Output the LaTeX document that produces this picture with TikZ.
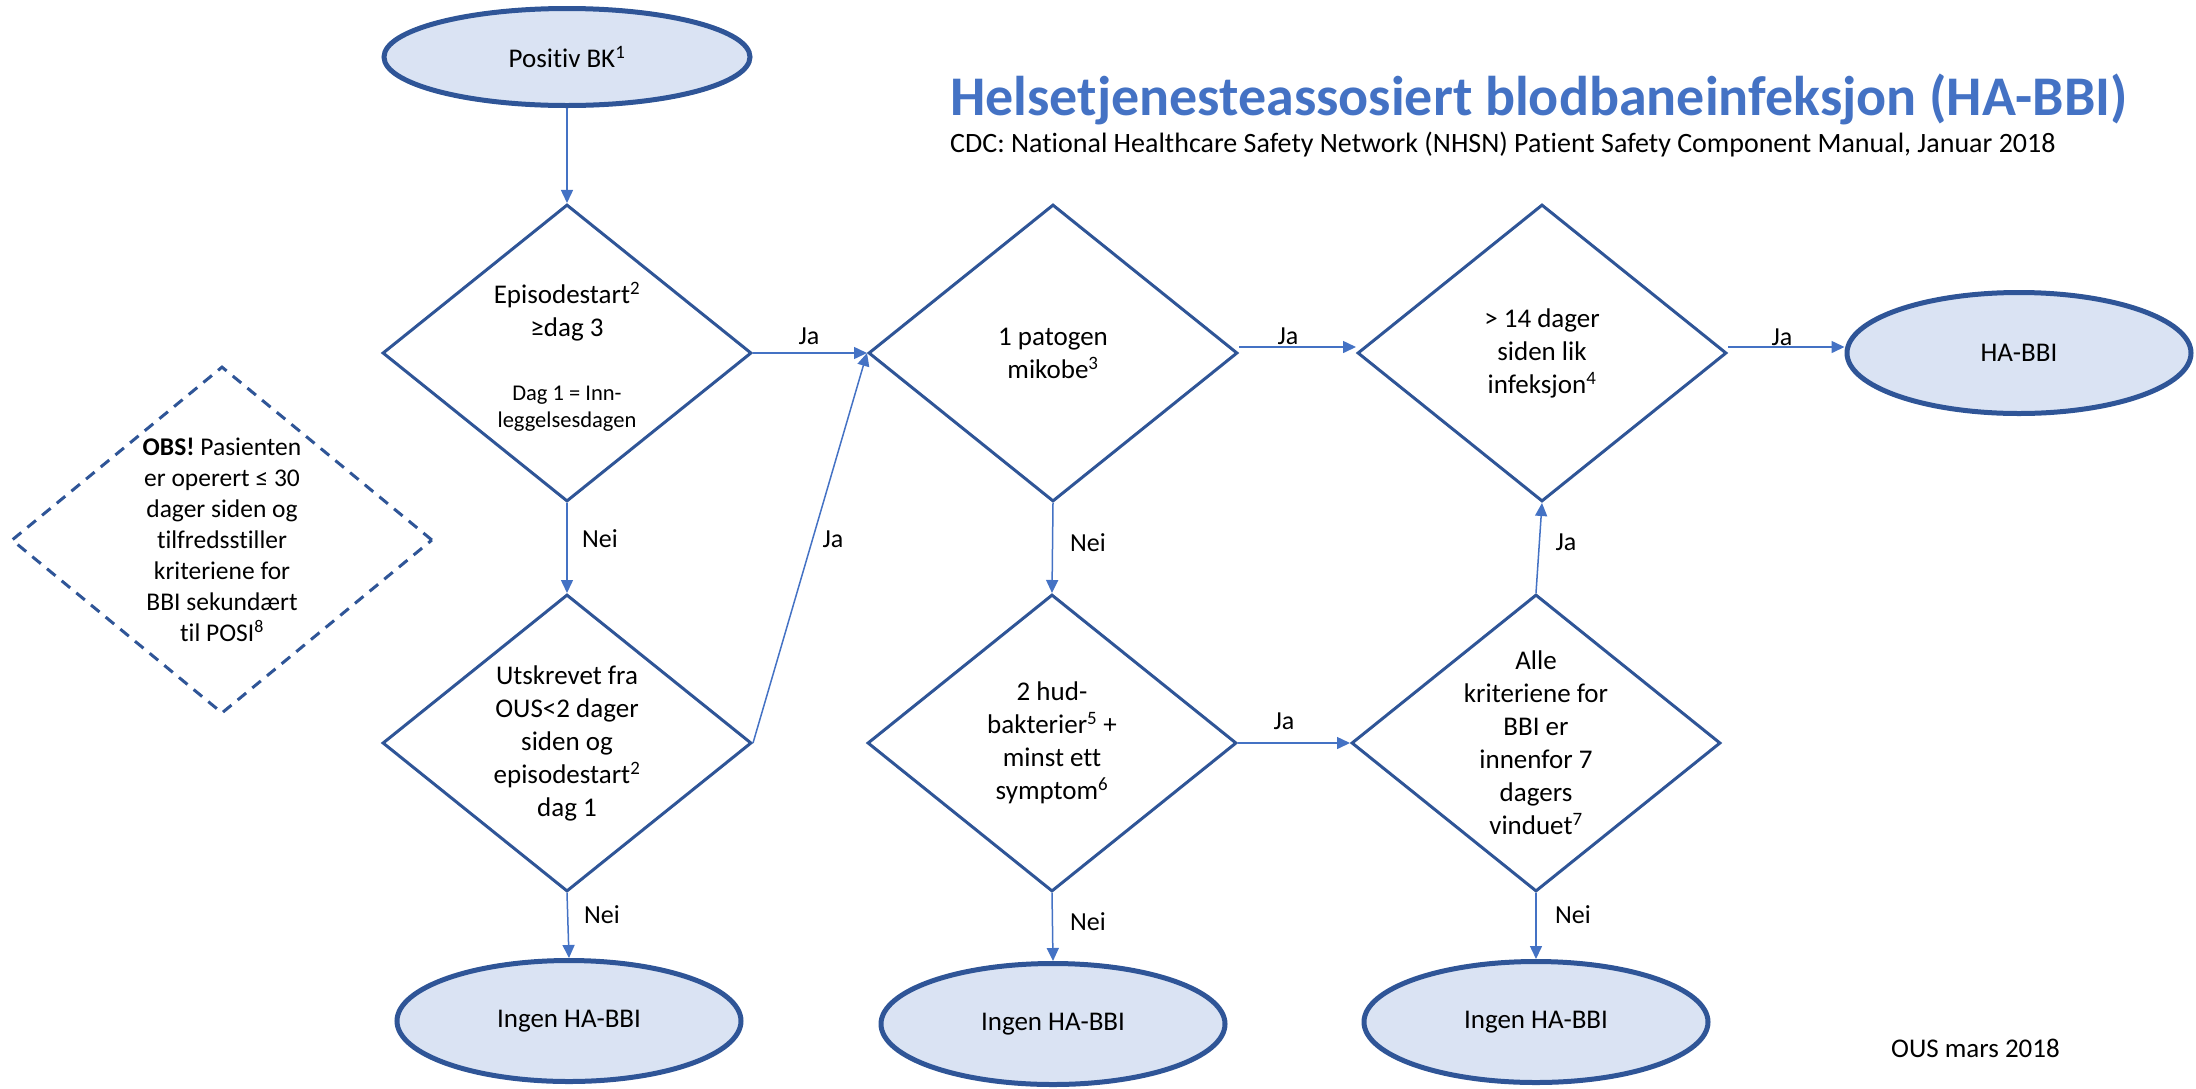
\documentclass[tikz,border=0pt]{standalone}
\usepackage{fontspec}
\setmainfont{Carlito}[Ligatures=NoCommon]
\usetikzlibrary{shapes.geometric,arrows.meta}
\definecolor{bord}{HTML}{2F5597}
\definecolor{fillc}{HTML}{DAE3F3}
\definecolor{conn}{HTML}{4472C4}
\newcommand\fsz[2]{\fontsize{#1pt}{#2pt}\selectfont}
\begin{document}
\begin{tikzpicture}[x=1pt,y=-1pt,
  term/.style={ellipse, draw=bord, fill=fillc, line width=5pt, inner sep=0pt,
               minimum width=344pt, minimum height=121pt, font=\fsz{27}{33}},
  dec/.style={diamond, draw=bord, line width=3pt, minimum width=369pt,
              minimum height=297pt, inner sep=0pt},
  dtxt/.style={align=center, font=\fsz{27}{33}, inner sep=0pt},
  arr/.style={draw=conn, line width=1.5pt, -{Triangle[length=13pt,width=12pt]}},
  lab/.style={font=\fsz{26}{30}, inner sep=0pt}]
\useasboundingbox (0,0) rectangle (2196,1088);

% title
\node[anchor=base west, inner sep=0pt, font=\fsz{56}{64}\bfseries, text=conn] (title) at (950,115)
  {Helsetjenesteassosiert blodbaneinfeksjon (HA-BBI)};
\node[anchor=base west, inner sep=0pt, font=\fsz{28}{32}] (sub) at (950,152)
  {CDC: National Healthcare Safety Network (NHSN) Patient Safety Component Manual, Januar 2018};
\node[anchor=base west, inner sep=0pt, font=\fsz{27}{33}] (ous) at (1891,1057) {OUS mars 2018};

% terminals
\node[term, minimum width=366pt, minimum height=97pt] (start) at (567,57) {Positiv BK\textsuperscript{1}};
\node[term] (ha) at (2019,353) {HA-BBI};
\node[term] (no1) at (569,1021) {Ingen HA-BBI};
\node[term] (no2) at (1053,1024) {Ingen HA-BBI};
\node[term] (no3) at (1536,1022) {Ingen HA-BBI};

% decisions
\node[dec] (d1) at (567,353) {};
\node[dec] (d2) at (567,743) {};
\node[dec] (d3) at (1053,353) {};
\node[dec] (d4) at (1052,743) {};
\node[dec] (d5) at (1542,353) {};
\node[dec] (d6) at (1536,743) {};
\node[dec, dash pattern=on 11pt off 8pt, minimum width=421pt, minimum height=347pt] (obs) at (222,540) {};

% decision texts
\node[dtxt] (d1t) at (567,312) {Episodestart\textsuperscript{2}\\≥dag 3};
\node[dtxt, font=\fsz{22.5}{27}] (d1s) at (567,409) {Dag 1 = Inn-\\leggelsesdagen};
\node[dtxt] (d2t) at (d2) {Utskrevet fra\\OUS<2 dager\\siden og\\episodestart\textsuperscript{2}\\dag 1};
\node[dtxt] (d3t) at (d3) {1 patogen\\mikobe\textsuperscript{3}};
\node[dtxt] (d4t) at (d4) {2 hud-\\bakterier\textsuperscript{5} +\\minst ett\\symptom\textsuperscript{6}};
\node[dtxt] (d5t) at (d5) {> 14 dager\\siden lik\\infeksjon\textsuperscript{4}};
\node[dtxt] (d6t) at (d6) {Alle\\kriteriene for\\BBI er\\innenfor 7\\dagers\\vinduet\textsuperscript{7}};
\node[dtxt, font=\fsz{25.5}{31}] (obst) at (obs) {\textbf{OBS!} Pasienten\\er operert ≤ 30\\dager siden og\\tilfredsstiller\\kriteriene for\\BBI sekundært\\til POSI\textsuperscript{8}};

% connectors
\draw[arr] (start) -- (d1);
\draw[arr] (d1.east) -- (d3.west);
\draw[arr] (d1.south) -- (d2.north);
\draw[arr] (d2.east) -- (d3.west);
\draw[arr] (d2.south) -- (no1.north);
\draw[arr] ([yshift=6pt]d3.east) -- ([yshift=6pt]d5.west);
\draw[arr] (d3.south) -- (d4.north);
\draw[arr] (d4.east) -- (d6.west);
\draw[arr] (d4.south) -- (no2.north);
\draw[arr] (d6.north) -- (d5.south);
\draw[arr] (d6.south) -- (no3.north);
\draw[arr] ([yshift=6pt]d5.east) -- ([yshift=6pt]ha.west);

% labels
\node[lab] (l1) at (809,336) {Ja};
\node[lab] (l2) at (600,539) {Nei};
\node[lab] (l3) at (833,539) {Ja};
\node[lab] (l4) at (602,915) {Nei};
\node[lab] (l5) at (1288,336) {Ja};
\node[lab] (l6) at (1088,543) {Nei};
\node[lab] (l7) at (1284,721) {Ja};
\node[lab] (l8) at (1088,922) {Nei};
\node[lab] (l9) at (1566,542) {Ja};
\node[lab] (l10) at (1573,915) {Nei};
\node[lab] (l11) at (1782,337) {Ja};
\end{tikzpicture}
\end{document}
